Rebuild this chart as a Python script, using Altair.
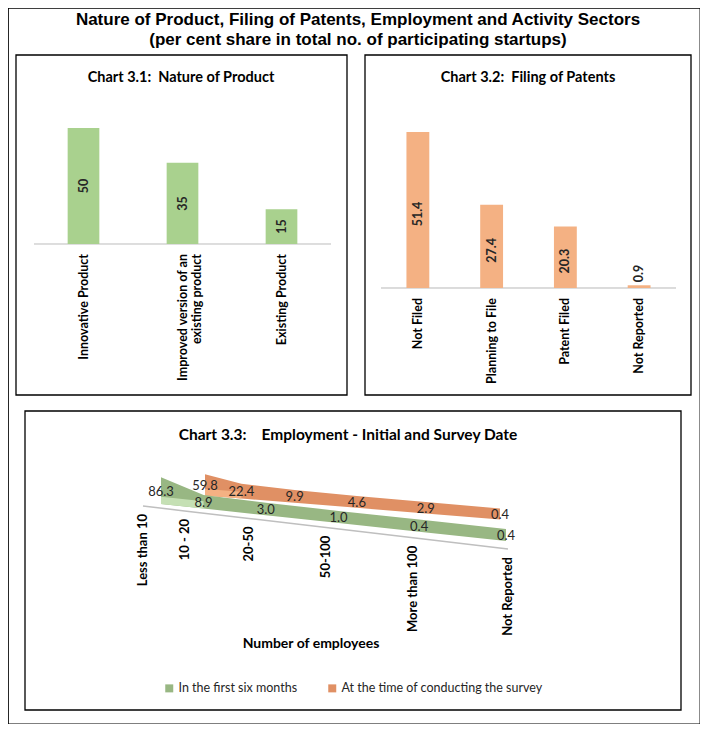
import altair as alt
import pandas as pd

# ---------------- data ----------------
main_title = ["Nature of Product, Filing of Patents, Employment and Activity Sectors",
              "(per cent share in total no. of participating startups)"]

product_title = "Chart 3.1:\u00a0 Nature of Product"
product_cats = ["Innovative Product", "Improved version of an\nexisting product", "Existing Product"]
product_vals = [50, 35, 15]

patent_title = "Chart 3.2:\u00a0 Filing of Patents"
patent_cats = ["Not Filed", "Planning to File", "Patent Filed", "Not Reported"]
patent_vals = [51.4, 27.4, 20.3, 0.9]

emp_title = "Chart 3.3:\u00a0\u00a0\u00a0 Employment - Initial and Survey Date"
emp_axis_title = "Number of employees"
emp_cats = ["Less than 10", "10 - 20", "20-50", "50-100", "More than 100", "Not Reported"]
emp_initial = [86.3, 8.9, 3.0, 1.0, 0.4, 0.4]
emp_survey = [59.8, 22.4, 9.9, 4.6, 2.9, 0.4]
series_names = ["In the first six months", "At the time of conducting the survey"]

# ---------------- layout ----------------
W, H = 692, 716
OX, OY = 5, 7


def vx(r):
    return r - OX


def vy(r):
    return r - OY


GREEN = "#a9d18e"
ORANGE = "#f4b183"
RIB_GREEN = "#98b783"
RIB_ORANGE = "#e09064"
FACE_GREEN = "#c5e0b4"
FACE_ORANGE = "#f4b183"
TXT = "#262626"
FONT = "Lato"

one = pd.DataFrame({"k": [0]})


def frame(x1, x2, y1, y2, sw=1.3):
    return alt.Chart(one).mark_rect(fillOpacity=0, stroke="black", strokeWidth=sw).encode(
        x=alt.value(vx(x1)), x2=alt.value(vx(x2)), y=alt.value(vy(y1)), y2=alt.value(vy(y2)))


def text_at(t, x, y, size, font=FONT, weight="bold", color="black"):
    return alt.Chart(one).mark_text(text=t, font=font, fontSize=size, fontWeight=weight,
                                    color=color, align="center", baseline="middle").encode(
        x=alt.value(vx(x)), y=alt.value(vy(y)))


layers = [frame(13, 344, 54, 394), frame(362, 688, 54, 394), frame(22, 678, 410, 709)]

layers += [
    text_at(main_title[0], 355, 19, 17, font="Liberation Sans"),
    text_at(main_title[1], 355, 39, 17, font="Liberation Sans"),
    text_at(product_title, 178, 77, 14.5),
    text_at(patent_title, 525, 77, 14.5),
    text_at(emp_title, 345, 434, 15.5),
    text_at(emp_axis_title, 308, 643, 14),
]


# ---------------- Chart 3.1 / 3.2 (bars) ----------------
def bar_panel(cats, vals, color, xr, pin, base_y, ppu, fmt, small_dx):
    src = alt.Chart(pd.DataFrame({"cat": cats, "value": vals}))

    def X():
        return alt.X("cat:N", sort=cats, axis=None,
                     scale=alt.Scale(domain=cats, range=[vx(xr[0]), vx(xr[1])],
                                     paddingInner=pin, paddingOuter=pin / 2))

    def Y(field):
        return alt.Y(field, axis=None,
                     scale=alt.Scale(domain=[0, 60], range=[vy(base_y), vy(base_y) - 60 * ppu],
                                     nice=False, zero=False))

    out = [
        src.transform_calculate(z="0").mark_rule(color="#d9d9d9", strokeWidth=1).encode(
            x=alt.value(vx(xr[0])), x2=alt.value(vx(xr[1])), y=Y("z:Q")),
        src.transform_calculate(z="0").mark_bar(color=color).encode(
            x=X(), y=Y("value:Q"), y2=alt.Y2("z:Q")),
        src.transform_filter("datum.value >= 5").transform_calculate(mid="datum.value/2").mark_text(
            angle=270, font=FONT, fontSize=12.5, fontWeight="bold", color=TXT,
            align="center", baseline="middle", dx=small_dx).encode(
            x=X(), y=Y("mid:Q"), text=alt.Text("value:Q", format=fmt)),
        src.transform_filter("datum.value < 5").mark_text(
            angle=270, font=FONT, fontSize=12.5, fontWeight="bold", color=TXT,
            align="left", baseline="middle", dx=3).encode(
            x=X(), y=Y("value:Q"), text=alt.Text("value:Q", format=fmt)),
        src.transform_calculate(z="0").mark_text(
            angle=270, font=FONT, fontSize=12.5, fontWeight="bold", color="black",
            align="right", baseline="middle", dx=-10, lineBreak="\n").encode(
            x=X(), y=Y("z:Q"), text="cat:N"),
    ]
    return out


layers += bar_panel(product_cats, product_vals, GREEN, (31, 328), 0.68, 243, 2.32, "d", 0)
layers += bar_panel(patent_cats, patent_vals, ORANGE, (378, 673), 0.69, 287, 3.035, ".1f", -4)

# ---------------- Chart 3.3 (pseudo-3D ribbons) ----------------
s0, s1 = series_names
N = len(emp_cats) - 1
GX0, GX1, GC0, GC1, GH = vx(158), vx(503), vy(497), vy(534), 6
QX0, QX1, QC0, QC1, QH = vx(202), vx(497), vy(489), vy(513), 5.5
DEPTH = 0.17


def PX(field):
    return alt.X(field, axis=None, scale=alt.Scale(domain=[0, W], range=[0, W], nice=False, zero=False))


def PY(field):
    return alt.Y(field, axis=None, scale=alt.Scale(domain=[0, H], range=[0, H], nice=False, zero=False))


rib = alt.Chart(pd.DataFrame({
    "series": [s0] * len(emp_cats) + [s1] * len(emp_cats),
    "idx": list(range(len(emp_cats))) * 2,
    "cat": emp_cats * 2,
    "value": emp_initial + emp_survey,
}))
isg = f"datum.series === '{s0}'"
rib = (rib
       .transform_calculate(t=f"pow(datum.idx/{N}, 1.3)")
       .transform_calculate(px=f"{isg} ? {GX0} + {GX1 - GX0}*datum.t : {QX0} + {QX1 - QX0}*datum.t")
       .transform_calculate(pc=f"{isg} ? {GC0} + {GC1 - GC0}*datum.t : {QC0} + {QC1 - QC0}*datum.t")
       .transform_calculate(hh=f"{isg} ? {GH} : {QH}")
       .transform_calculate(top=f"datum.pc - datum.hh - datum.value*{DEPTH}")
       .transform_calculate(bot="datum.pc + datum.hh")
       .transform_calculate(mid="datum.pc - datum.hh*0.2")
       .transform_calculate(lab=f"datum.pc - datum.value*{DEPTH}/2 + 1"))

color = alt.Color("series:N", scale=alt.Scale(domain=series_names, range=[RIB_GREEN, RIB_ORANGE]),
                  legend=alt.Legend(title=None, orient="none", direction="horizontal",
                                    legendX=vx(160), legendY=vy(681), symbolType="square",
                                    symbolSize=64, symbolStrokeWidth=0, labelFont=FONT,
                                    labelFontSize=12.5, labelColor=TXT, columnPadding=28,
                                    labelOffset=3, labelLimit=0, padding=0))

floor = alt.Chart(pd.DataFrame({"idx": list(range(len(emp_cats))), "cat": emp_cats}))
FX0, FX1, FY0, FY1 = vx(140), vx(505), vy(505), vy(548)
floor = (floor
         .transform_calculate(t=f"pow(datum.idx/{N}, 1.35)")
         .transform_calculate(fx=f"{FX0} + {FX1 - FX0}*datum.t")
         .transform_calculate(fy=f"{FY0} + {FY1 - FY0}*datum.t"))


def ribbon(series, face):
    r = rib.transform_filter(f"datum.series === '{series}'")
    return [
        r.mark_area(interpolate="linear").encode(
            x=PX("px:Q"), y=PY("top:Q"), y2="bot:Q", color=color),
        r.transform_filter("datum.idx <= 1").mark_area(interpolate="linear", color=face).encode(
            x=PX("px:Q"), y=PY("mid:Q"), y2="bot:Q"),
    ]


layers += [
    floor.mark_line(color="#bfbfbf", strokeWidth=1.5).encode(x=PX("fx:Q"), y=PY("fy:Q")),
    floor.mark_text(angle=270, font=FONT, fontSize=13, fontWeight="bold", color="black",
                    align="right", baseline="middle", dx=-8).encode(
        x=PX("fx:Q"), y=PY("fy:Q"), text="cat:N"),
]
layers += ribbon(s1, FACE_ORANGE)
layers += ribbon(s0, FACE_GREEN)
layers += [
    rib.mark_text(font=FONT, fontSize=13, color=TXT, align="center", baseline="middle").encode(
        x=PX("px:Q"), y=PY("lab:Q"), text=alt.Text("value:Q", format=".1f")),
]

chart = alt.layer(*layers).resolve_scale(
    x="independent", y="independent"
).properties(width=W, height=H, padding=0).configure_view(stroke="black", strokeWidth=1.3)

chart.save("out.html", embed_options={"renderer": "svg", "actions": False})
